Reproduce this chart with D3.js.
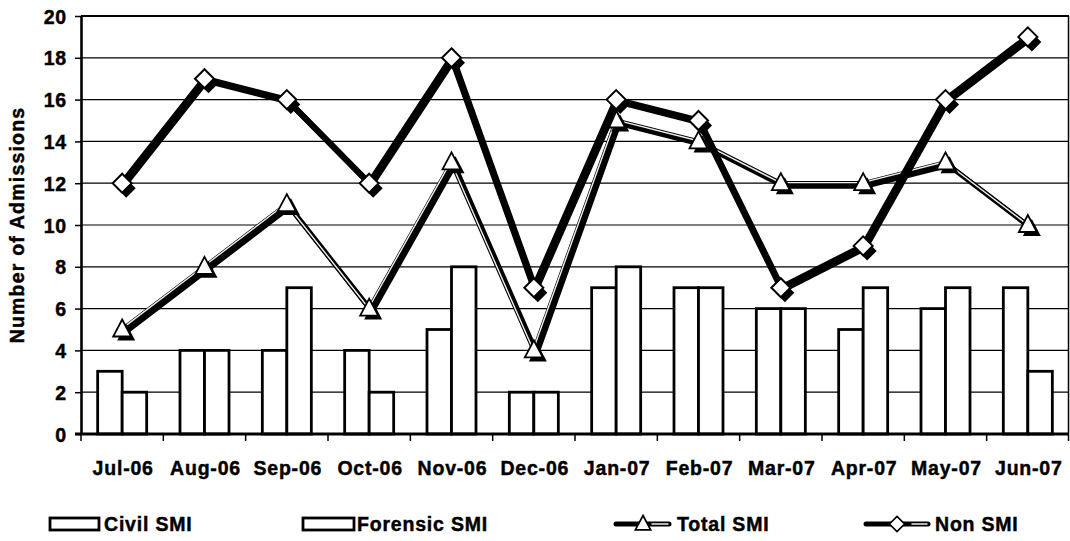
<!DOCTYPE html>
<html>
<head>
<meta charset="utf-8">
<script src="https://cdn.jsdelivr.net/npm/d3@7"></script>
<style>
  html, body { margin: 0; padding: 0; background: #fff; }
  svg text {
    font-family: "Liberation Sans", Arial, Helvetica, sans-serif;
    font-weight: bold;
    fill: #000;
    stroke: #000;
    stroke-width: 0.45px;
    letter-spacing: 0.8px;
  }
</style>
</head>
<body>
<svg id="chart" width="1070" height="541"></svg>
<script>
// Monthly admissions, July 2006 – June 2007
const months = ["Jul-06", "Aug-06", "Sep-06", "Oct-06", "Nov-06", "Dec-06",
                "Jan-07", "Feb-07", "Mar-07", "Apr-07", "May-07", "Jun-07"];
const civilSMI    = [3, 4, 4, 4, 5, 2, 7, 7, 6, 5, 6, 7];
const forensicSMI = [2, 4, 7, 2, 8, 2, 8, 7, 6, 7, 7, 3];
const totalSMI    = [5, 8, 11, 6, 13, 4, 15, 14, 12, 12, 13, 10];
const nonSMI      = [12, 17, 16, 12, 18, 7, 16, 15, 7, 9, 16, 19];
const yTicks      = [0, 2, 4, 6, 8, 10, 12, 14, 16, 18, 20];
const seriesNames = ["Civil SMI", "Forensic SMI", "Total SMI", "Non SMI"];
const yTitle      = "Number of Admissions";

const svg = d3.select("#chart");
const plot = { left: 81, right: 1069, top: 16, bottom: 434 };
const FONT = 19.5;

const x = d3.scaleBand().domain(months).range([plot.left, plot.right]);
const xSub = d3.scaleBand().domain(["civil", "forensic"])
  .range([0, x.bandwidth()]).paddingInner(0).paddingOuter(0.68);
const y = d3.scaleLinear().domain([0, 20]).range([plot.bottom, plot.top]);
const cx = i => x(months[i]) + x.bandwidth() / 2;

// Horizontal gridlines
svg.append("g").selectAll("line")
  .data(yTicks.filter(t => t > 0 && t < 20))
  .join("line")
  .attr("x1", plot.left).attr("x2", plot.right)
  .attr("y1", d => y(d)).attr("y2", d => y(d))
  .attr("stroke", "#000").attr("stroke-width", 1.2);

// Plot frame: top and right edges
svg.append("line")
  .attr("x1", plot.left).attr("x2", plot.right)
  .attr("y1", y(20)).attr("y2", y(20))
  .attr("stroke", "#000").attr("stroke-width", 2.2);
svg.append("line")
  .attr("x1", plot.right - 0.5).attr("x2", plot.right - 0.5)
  .attr("y1", y(20)).attr("y2", y(0))
  .attr("stroke", "#000").attr("stroke-width", 1.5);

// Bars
const barData = months.map((m, i) => [
  { m, key: "civil", v: civilSMI[i] },
  { m, key: "forensic", v: forensicSMI[i] }
]).flat();
svg.append("g").selectAll("rect")
  .data(barData)
  .join("rect")
  .attr("x", d => x(d.m) + xSub(d.key))
  .attr("width", xSub.bandwidth())
  .attr("y", d => y(d.v))
  .attr("height", d => y(0) - y(d.v))
  .attr("fill", "#fff")
  .attr("stroke", "#000")
  .attr("stroke-width", 2.8);

// Y axis
const yAxis = svg.append("g")
  .attr("transform", `translate(${plot.left},0)`)
  .call(d3.axisLeft(y).tickValues(yTicks).tickFormat(d3.format("d"))
        .tickSize(6).tickPadding(8).tickSizeOuter(0));
yAxis.select(".domain").attr("stroke", "#000").attr("stroke-width", 2.6);
yAxis.selectAll(".tick line").attr("stroke", "#000").attr("stroke-width", 1.5);
yAxis.selectAll(".tick text")
  .attr("font-size", FONT)
  .attr("font-family", null)
  .attr("fill", null)
  .attr("dy", "0.36em");

// X axis: baseline, boundary ticks, month labels
svg.append("line")
  .attr("x1", plot.left - 6).attr("x2", plot.right)
  .attr("y1", y(0)).attr("y2", y(0))
  .attr("stroke", "#000").attr("stroke-width", 3.2);
const bounds = months.map(m => x(m)).concat([plot.right - 0.5]);
svg.append("g").selectAll("line")
  .data(bounds)
  .join("line")
  .attr("x1", d => d).attr("x2", d => d)
  .attr("y1", y(0)).attr("y2", y(0) + 7)
  .attr("stroke", "#000").attr("stroke-width", 1.5);
svg.append("g").selectAll("text")
  .data(months)
  .join("text")
  .attr("x", (d, i) => cx(i) + 1)
  .attr("y", 475)
  .attr("text-anchor", "middle")
  .attr("font-size", FONT)
  .text(d => d);

// Y axis title
svg.append("text")
  .attr("transform", `translate(24,${(plot.top + plot.bottom) / 2}) rotate(-90)`)
  .attr("text-anchor", "middle")
  .attr("font-size", FONT)
  .style("letter-spacing", "1.2px")
  .text(yTitle);

// Marker shapes
const triPath = "M0,-10 L9,7 L-9,7 Z";
const diaPath = "M0,-9.5 L9.5,0 L0,9.5 L-9.5,0 Z";

const line = d3.line().x((d, i) => cx(i)).y(d => y(d));

// Total SMI: shadowed line with light core
const gTot = svg.append("g");
gTot.append("path").datum(totalSMI).attr("d", line)
  .attr("transform", "translate(3,3)")
  .attr("fill", "none").attr("stroke", "#000").attr("stroke-width", 5)
  .attr("stroke-linejoin", "round");
gTot.append("path").datum(totalSMI).attr("d", line)
  .attr("fill", "none").attr("stroke", "#000").attr("stroke-width", 4.2)
  .attr("stroke-linejoin", "round");
gTot.append("path").datum(totalSMI).attr("d", line)
  .attr("transform", "translate(-0.6,-0.6)")
  .attr("fill", "none").attr("stroke", "#eeeeee").attr("stroke-width", 1.4)
  .attr("stroke-linejoin", "round");
gTot.selectAll("path.shadow").data(totalSMI).join("path")
  .attr("class", "shadow")
  .attr("d", triPath)
  .attr("transform", (d, i) => `translate(${cx(i) + 4},${y(d) + 4})`)
  .attr("fill", "#000");
gTot.selectAll("path.mark").data(totalSMI).join("path")
  .attr("class", "mark")
  .attr("d", triPath)
  .attr("transform", (d, i) => `translate(${cx(i)},${y(d)})`)
  .attr("fill", "#fff").attr("stroke", "#000").attr("stroke-width", 1.8)
  .attr("stroke-linejoin", "miter");

// Non SMI: heavy line with diamond markers
const gNon = svg.append("g");
gNon.append("path").datum(nonSMI).attr("d", line)
  .attr("transform", "translate(2,2)")
  .attr("fill", "none").attr("stroke", "#000").attr("stroke-width", 6)
  .attr("stroke-linejoin", "round");
gNon.append("path").datum(nonSMI).attr("d", line)
  .attr("fill", "none").attr("stroke", "#000").attr("stroke-width", 6)
  .attr("stroke-linejoin", "round");
gNon.selectAll("path.shadow").data(nonSMI).join("path")
  .attr("class", "shadow")
  .attr("d", diaPath)
  .attr("transform", (d, i) => `translate(${cx(i) + 4},${y(d) + 5})`)
  .attr("fill", "#000");
gNon.selectAll("path.mark").data(nonSMI).join("path")
  .attr("class", "mark")
  .attr("d", diaPath)
  .attr("transform", (d, i) => `translate(${cx(i)},${y(d)})`)
  .attr("fill", "#fff").attr("stroke", "#000").attr("stroke-width", 2);

// Legend
const ly = 524;
const legend = svg.append("g");
const boxes = [{ x: 50, w: 49, name: seriesNames[0], tx: 104 },
               { x: 303, w: 51, name: seriesNames[1], tx: 357 }];
boxes.forEach(b => {
  legend.append("rect")
    .attr("x", b.x).attr("y", ly - 6).attr("width", b.w).attr("height", 12)
    .attr("fill", "#fff").attr("stroke", "#000").attr("stroke-width", 2.8);
  legend.append("text").attr("x", b.tx).attr("y", ly + 7)
    .attr("font-size", FONT).text(b.name);
});

// Total SMI legend entry
legend.append("line").attr("x1", 616).attr("x2", 669).attr("y1", ly).attr("y2", ly)
  .attr("stroke", "#000").attr("stroke-width", 5).attr("stroke-linecap", "round");
legend.append("line").attr("x1", 652).attr("x2", 668).attr("y1", ly).attr("y2", ly)
  .attr("stroke", "#eeeeee").attr("stroke-width", 1.5).attr("stroke-linecap", "round");
legend.append("path").attr("d", triPath)
  .attr("transform", `translate(643,${ly}) scale(0.85)`)
  .attr("fill", "#fff").attr("stroke", "#000").attr("stroke-width", 2);
legend.append("text").attr("x", 677).attr("y", ly + 7)
  .attr("font-size", FONT).text(seriesNames[2]);

// Non SMI legend entry
legend.append("line").attr("x1", 866).attr("x2", 928).attr("y1", ly).attr("y2", ly)
  .attr("stroke", "#000").attr("stroke-width", 5).attr("stroke-linecap", "round");
legend.append("line").attr("x1", 912).attr("x2", 927).attr("y1", ly).attr("y2", ly)
  .attr("stroke", "#eeeeee").attr("stroke-width", 1.5).attr("stroke-linecap", "round");
legend.append("path").attr("d", diaPath)
  .attr("transform", `translate(897,${ly}) scale(0.8)`)
  .attr("fill", "#fff").attr("stroke", "#000").attr("stroke-width", 2);
legend.append("text").attr("x", 935).attr("y", ly + 7)
  .attr("font-size", FONT).text(seriesNames[3]);
</script>
</body>
</html>
